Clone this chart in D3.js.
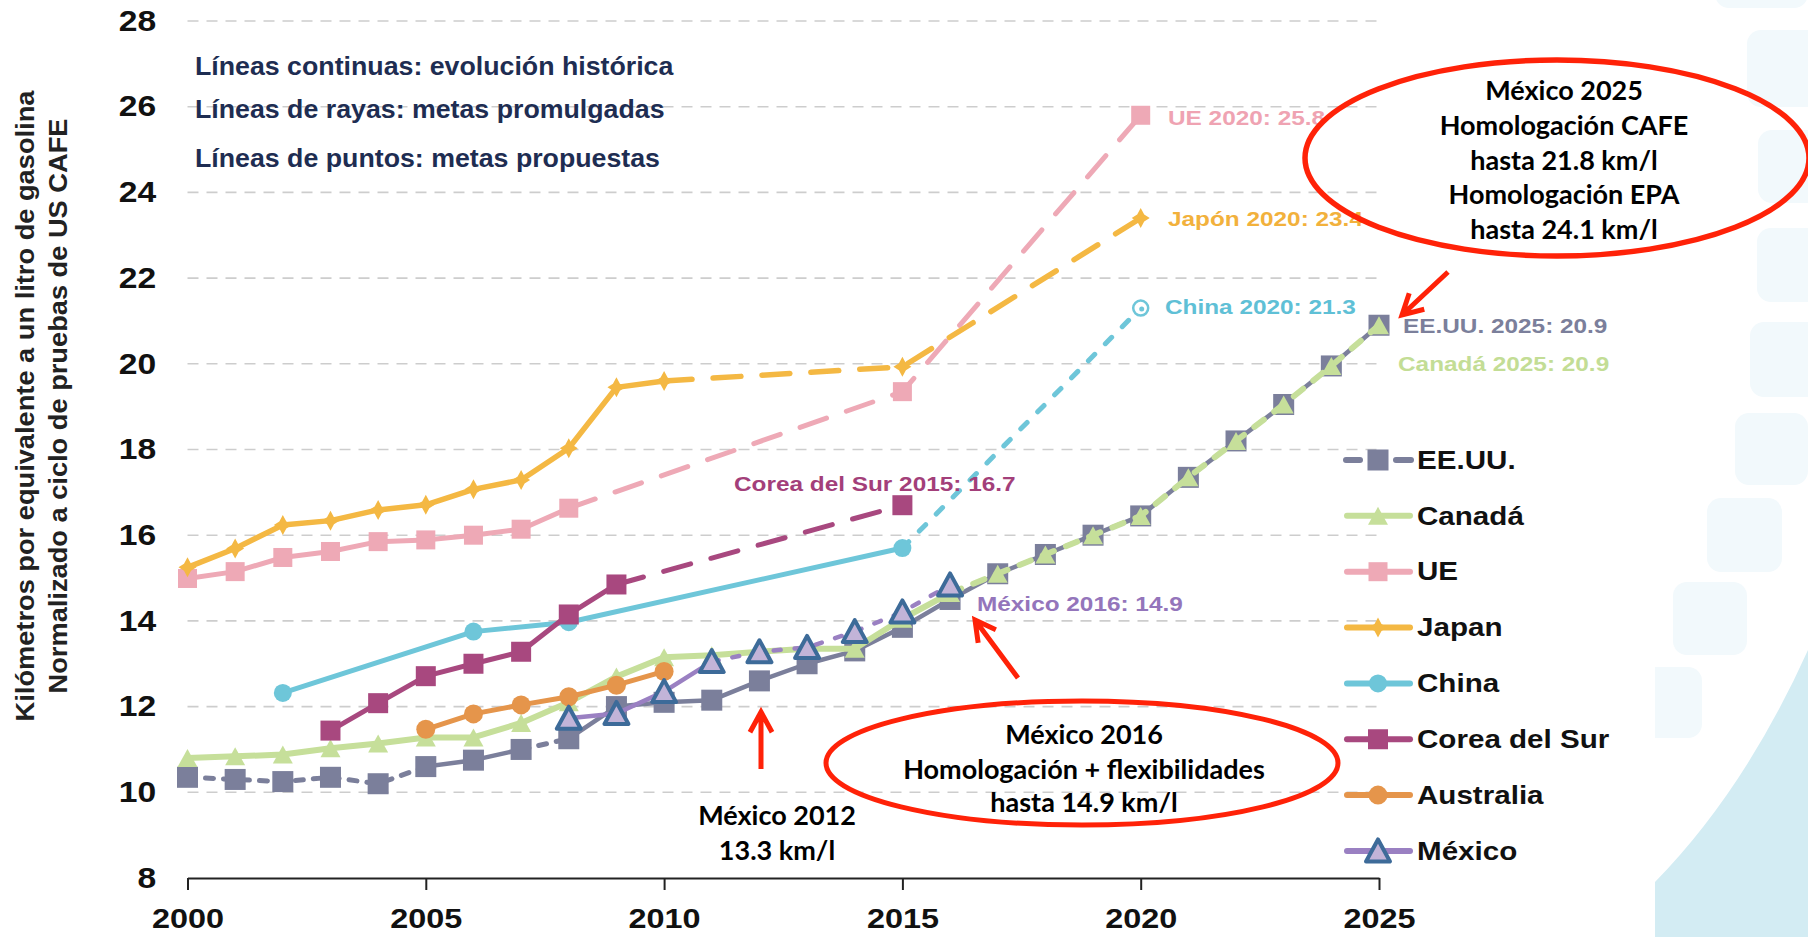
<!DOCTYPE html>
<html>
<head>
<meta charset="utf-8">
<script src="https://cdn.jsdelivr.net/npm/d3@7"></script>
<style>
  html, body { margin: 0; padding: 0; background: #fff; }
  svg { display: block; }
</style>
</head>
<body>
<div id="chart"></div>
<script>
////////////////////////////////////
//////////////data//////////////////
////////////////////////////////////
const xTicks = [2000, 2005, 2010, 2015, 2020, 2025]
const yTicks = [8, 10, 12, 14, 16, 18, 20, 22, 24, 26, 28]

const usYears = [2000, 2001, 2002, 2003, 2004, 2005, 2006, 2007, 2008, 2009, 2010, 2011, 2012,
  2013, 2014, 2015, 2016, 2017, 2018, 2019, 2020, 2021, 2022, 2023, 2024, 2025]
const usValues = [10.35, 10.3, 10.25, 10.35, 10.2, 10.6, 10.75, 11.0, 11.25, 12.0, 12.1, 12.15, 12.6,
  13.0, 13.3, 13.85, 14.5, 15.1, 15.55, 16.0, 16.45, 17.35, 18.2, 19.05, 19.95, 20.9]

const caYears = [2000, 2001, 2002, 2003, 2004, 2005, 2006, 2007, 2008, 2009, 2010, 2011, 2012,
  2013, 2014, 2015, 2016, 2017, 2018, 2019, 2020, 2021, 2022, 2023, 2024, 2025]
const caValues = [10.8, 10.84, 10.88, 11.03, 11.14, 11.28, 11.28, 11.62, 12.1, 12.7, 13.15, 13.2, 13.28,
  13.35, 13.35, 14.05, 14.65, 15.1, 15.55, 16.0, 16.45, 17.35, 18.2, 19.05, 19.95, 20.9]

const ueYears = [2000, 2001, 2002, 2003, 2004, 2005, 2006, 2007, 2008, 2015, 2020]
const ueValues = [14.99, 15.15, 15.48, 15.62, 15.85, 15.89, 16.0, 16.14, 16.63, 19.35, 25.8]

const jpYears = [2000, 2001, 2002, 2003, 2004, 2005, 2006, 2007, 2008, 2009, 2010, 2015, 2020]
const jpValues = [15.25, 15.69, 16.24, 16.34, 16.59, 16.71, 17.07, 17.29, 18.03, 19.45, 19.6, 19.93, 23.4]

const cnYears = [2002, 2006, 2008, 2015, 2020]
const cnValues = [12.32, 13.75, 13.97, 15.7, 21.3]

const krYears = [2003, 2004, 2005, 2006, 2007, 2008, 2009, 2015]
const krValues = [11.44, 12.08, 12.71, 13.0, 13.28, 14.15, 14.85, 16.7]

const auYears = [2005, 2006, 2007, 2008, 2009, 2010]
const auValues = [11.47, 11.83, 12.04, 12.23, 12.5, 12.82]

const mxYears = [2008, 2009, 2010, 2011, 2012, 2013, 2014, 2015, 2016]
const mxValues = [11.73, 11.84, 12.35, 13.05, 13.28, 13.38, 13.75, 14.21, 14.84]

// line style per stretch of years: [from, to, style]
const usSegs = [[2000, 2005, 'short'], [2005, 2007, 'solid'], [2007, 2008, 'short'], [2008, 2025, 'solid']]
const caSegs = [[2000, 2016, 'solid'], [2016, 2025, 'dotCa']]
const ueSegs = [[2000, 2008, 'solid'], [2008, 2020, 'long']]
const jpSegs = [[2000, 2010, 'solid'], [2010, 2020, 'long']]
const cnSegs = [[2002, 2015, 'solid'], [2015, 2020, 'dot']]
const krSegs = [[2003, 2009, 'solid'], [2009, 2015, 'long']]
const auSegs = [[2005, 2010, 'solid']]
const mxSegs = [[2008, 2011, 'solid'], [2011, 2016, 'dotMx']]

const seriesLabels = [
  { text: 'UE 2020: 25.8', x: 1168, y: 118, color: '#efa3b2' },
  { text: 'Japón 2020: 23.4', x: 1168, y: 219, color: '#f2b13c' },
  { text: 'China 2020: 21.3', x: 1165, y: 307, color: '#5fc0d6' },
  { text: 'EE.UU. 2025: 20.9', x: 1403, y: 326, color: '#7b7f9b' },
  { text: 'Canadá 2025: 20.9', x: 1398, y: 364, color: '#c3dd95' },
  { text: 'Corea del Sur 2015: 16.7', x: 734, y: 484, color: '#a33f7a' },
  { text: 'México 2016: 14.9', x: 977, y: 604, color: '#9475bb' }
]

const notes = [
  'Líneas continuas: evolución histórica',
  'Líneas de rayas: metas promulgadas',
  'Líneas de puntos: metas propuestas'
]

////////////////////////////////////
//////////////setup/////////////////
////////////////////////////////////
const W = 1808
const H = 937

const svg = d3.select('#chart')
  .append('svg')
  .attr('width', W)
  .attr('height', H)

const x = d3.scaleLinear().domain([2000, 2025]).range([187.5, 1379])
const y = d3.scaleLinear().domain([8, 28]).range([878, 21])

const dashes = {
  solid: null,
  short: '8,10',
  long: '28,21',
  dot: '9,15',
  dotCa: '12,13',
  dotMx: '7,14'
}

const boldFont = '"Liberation Sans", Arial, Helvetica, sans-serif'

// background decoration (slide template on the right)
const deco = svg.append('g')
svg.append('clipPath').attr('id', 'decoClip')
  .append('rect').attr('x', 1655).attr('y', 0).attr('width', 200).attr('height', H)
const tiles = [[1747, 30, 80, 77], [1758, 130, 80, 73], [1757, 228, 80, 74], [1750, 322, 80, 75],
  [1735, 413, 73, 72], [1707, 498, 75, 74], [1673, 582, 74, 73], [1628, 667, 74, 71], [1715, -20, 93, 28]]
deco.append('g').attr('clip-path', 'url(#decoClip)')
  .selectAll('rect')
  .data(tiles)
  .join('rect')
  .attr('x', d => d[0]).attr('y', d => d[1])
  .attr('width', d => d[2]).attr('height', d => d[3])
  .attr('rx', 14)
  .attr('fill', '#f2f9fc')
deco.append('path')
  .attr('d', 'M1655,937 L1655,882 Q1745,790 1808,650 L1808,937 Z')
  .attr('fill', '#d3ecf3')

////////////////////////////////////
//////////////axes//////////////////
////////////////////////////////////
svg.append('g')
  .selectAll('line')
  .data(yTicks.filter(d => d > 8))
  .join('line')
  .attr('x1', x(2000)).attr('x2', x(2025))
  .attr('y1', d => y(d)).attr('y2', d => y(d))
  .attr('stroke', '#cdcdcd')
  .attr('stroke-width', 1.6)
  .attr('stroke-dasharray', '11,8')

const yAxis = svg.append('g')
  .attr('transform', `translate(${x(2000)},0)`)
  .call(d3.axisLeft(y).tickValues(yTicks).tickSize(0).tickPadding(27))
yAxis.select('.domain').remove()
yAxis.selectAll('text')
  .attr('transform', 'scale(1.16,1)')
  .attr('fill', '#111')
  .style('font-family', boldFont)
  .style('font-weight', 'bold')
  .style('font-size', '29px')

const xAxis = svg.append('g')
  .attr('transform', `translate(0,${y(8)})`)
  .call(d3.axisBottom(x).tickValues(xTicks).tickFormat(d3.format('d')).tickSize(12).tickSizeOuter(0))
xAxis.select('.domain').attr('stroke', '#222').attr('stroke-width', 2)
xAxis.selectAll('.tick line').attr('stroke', '#222').attr('stroke-width', 2)
xAxis.selectAll('text')
  .attr('y', 41)
  .attr('dy', '0.35em')
  .attr('transform', 'scale(1.2,1)')
  .attr('fill', '#111')
  .style('font-family', boldFont)
  .style('font-weight', 'bold')
  .style('font-size', '27px')

// y axis title, two lines
const yTitle = ['Kilómetros por equivalente a un litro de gasolina', 'Normalizado a ciclo de pruebas de US CAFE']
yTitle.forEach((t, i) => {
  svg.append('text')
    .attr('transform', `translate(${25 + i * 33},406) rotate(-90) scale(1.09,1)`)
    .attr('text-anchor', 'middle')
    .attr('dominant-baseline', 'central')
    .attr('fill', '#222')
    .style('font-family', boldFont)
    .style('font-weight', 'bold')
    .style('font-size', '25px')
    .text(t)
})

// notes top left
notes.forEach((t, i) => {
  svg.append('text')
    .attr('transform', `translate(195,${[66, 109, 158][i]}) scale(1.07,1)`)
    .attr('dominant-baseline', 'central')
    .attr('fill', '#1e2d52')
    .style('font-family', boldFont)
    .style('font-weight', 'bold')
    .style('font-size', '25px')
    .text(t)
})

////////////////////////////////////
//////////////markers///////////////
////////////////////////////////////
function markerPath(type) {
  if (type === 'ctri') return 'M0,-9L10,9L-10,9Z'
  if (type === 'mtri') return 'M0,-11.5L12,10.5L-12,10.5Z'
  if (type === 'star') return 'M0,-10L3.5,-3.5L9,0L3.5,3.5L0,10L-3.5,3.5L-9,0L-3.5,-3.5Z'
  return null
}

function drawMarker(g, s, cx, cy, ring) {
  if (ring) {
    g.append('circle').attr('cx', cx).attr('cy', cy).attr('r', 7.5)
      .attr('fill', '#fff').attr('stroke', s.color).attr('stroke-width', 2.5)
    g.append('circle').attr('cx', cx + 1).attr('cy', cy + 1).attr('r', 2.5).attr('fill', s.color)
    return
  }
  if (s.marker === 'square') {
    g.append('rect')
      .attr('x', cx - s.size / 2).attr('y', cy - s.size / 2)
      .attr('width', s.size).attr('height', s.size)
      .attr('fill', s.color)
  } else if (s.marker === 'circle') {
    g.append('circle').attr('cx', cx).attr('cy', cy).attr('r', s.size).attr('fill', s.color)
  } else if (s.marker === 'mtri') {
    g.append('path').attr('d', markerPath('mtri'))
      .attr('transform', `translate(${cx},${cy})`)
      .attr('fill', '#c2b4d8')
      .attr('stroke', '#3d6b99')
      .attr('stroke-width', 4)
      .attr('stroke-linejoin', 'round')
  } else {
    g.append('path').attr('d', markerPath(s.marker))
      .attr('transform', `translate(${cx},${cy})`)
      .attr('fill', s.color)
  }
}

////////////////////////////////////
//////////////series////////////////
////////////////////////////////////
const series = [
  { name: 'EE.UU.', years: usYears, values: usValues, segs: usSegs, color: '#7b7f9b', width: 5, marker: 'square', size: 21 },
  { name: 'Canadá', years: caYears, values: caValues, segs: caSegs, color: '#c6df9a', width: 6, marker: 'ctri' },
  { name: 'UE', years: ueYears, values: ueValues, segs: ueSegs, color: '#eea9b6', width: 5, marker: 'square', size: 19 },
  { name: 'Japan', years: jpYears, values: jpValues, segs: jpSegs, color: '#f4b843', width: 5.5, marker: 'star' },
  { name: 'China', years: cnYears, values: cnValues, segs: cnSegs, color: '#6ec6d9', width: 5, marker: 'circle', size: 9, ringYear: 2020 },
  { name: 'Corea del Sur', years: krYears, values: krValues, segs: krSegs, color: '#a8487f', width: 5, marker: 'square', size: 20 },
  { name: 'Australia', years: auYears, values: auValues, segs: auSegs, color: '#e5954b', width: 5, marker: 'circle', size: 9.5 },
  { name: 'México', years: mxYears, values: mxValues, segs: mxSegs, color: '#9a80c2', width: 4.5, marker: 'mtri' }
]

const line = d3.line().x(d => x(d.year)).y(d => y(d.value))

const plot = svg.append('g')
series.forEach(s => {
  const pts = s.years.map((yr, i) => ({ year: yr, value: s.values[i] }))
  const g = plot.append('g')
  s.segs.forEach(([a, b, style]) => {
    g.append('path')
      .datum(pts.filter(p => p.year >= a && p.year <= b))
      .attr('d', line)
      .attr('fill', 'none')
      .attr('stroke', s.color)
      .attr('stroke-width', style === 'solid' && s.name === 'EE.UU.' ? 4.5 : s.width)
      .attr('stroke-linecap', 'round')
      .attr('stroke-linejoin', 'round')
      .attr('stroke-dasharray', dashes[style])
  })
  pts.forEach(p => drawMarker(g, s, x(p.year), y(p.value), p.year === s.ringYear))
})

seriesLabels.forEach(l => {
  svg.append('text')
    .attr('transform', `translate(${l.x},${l.y}) scale(1.16,1)`)
    .attr('dominant-baseline', 'central')
    .attr('fill', l.color)
    .style('font-family', boldFont)
    .style('font-weight', 'bold')
    .style('font-size', '21px')
    .text(l.text)
})

////////////////////////////////////
//////////////legend////////////////
////////////////////////////////////
const legend = svg.append('g')
series.forEach((s, i) => {
  const ly = 460 + i * 55.85
  const g = legend.append('g')
  if (s.name === 'EE.UU.') {
    [[1346, 1360], [1396, 1411]].forEach(([a, b]) => {
      g.append('line').attr('x1', a).attr('x2', b).attr('y1', ly).attr('y2', ly)
        .attr('stroke', s.color).attr('stroke-width', 6).attr('stroke-linecap', 'round')
    })
  } else {
    g.append('line').attr('x1', 1347).attr('x2', 1410).attr('y1', ly).attr('y2', ly)
      .attr('stroke', s.color).attr('stroke-width', 6).attr('stroke-linecap', 'round')
  }
  drawMarker(g, s, 1378, ly, false)
  g.append('text')
    .attr('transform', `translate(1417,${ly}) scale(1.16,1)`)
    .attr('dominant-baseline', 'central')
    .attr('fill', '#111')
    .style('font-family', boldFont)
    .style('font-weight', 'bold')
    .style('font-size', '25.5px')
    .text(s.name)
})

////////////////////////////////////
//////////////annotations///////////
////////////////////////////////////
const red = '#ff2208'
const ann = svg.append('g')

function arrow(x1, y1, x2, y2) {
  const ang = Math.atan2(y2 - y1, x2 - x1)
  const len = 23
  const wing = a => [x2 - len * Math.cos(ang + a), y2 - len * Math.sin(ang + a)]
  const w1 = wing(0.5)
  const w2 = wing(-0.5)
  ann.append('path')
    .attr('d', `M${x1},${y1}L${x2},${y2}M${w1[0]},${w1[1]}L${x2},${y2}L${w2[0]},${w2[1]}`)
    .attr('fill', 'none')
    .attr('stroke', red)
    .attr('stroke-width', 5)
    .attr('stroke-linejoin', 'miter')
}

ann.append('ellipse')
  .attr('cx', 1557).attr('cy', 158).attr('rx', 252).attr('ry', 98)
  .attr('fill', 'none').attr('stroke', red).attr('stroke-width', 5.5)

ann.append('ellipse')
  .attr('cx', 1082).attr('cy', 763).attr('rx', 256).attr('ry', 62)
  .attr('fill', 'none').attr('stroke', red).attr('stroke-width', 5)

arrow(761, 769, 761, 712)
arrow(1018, 678, 975, 620)
arrow(1448, 272, 1402, 315)

function noteLines(lines, cx, ys) {
  lines.forEach((t, i) => {
    ann.append('text')
      .attr('x', cx).attr('y', ys[i])
      .attr('text-anchor', 'middle')
      .attr('dominant-baseline', 'central')
      .attr('fill', '#000')
      .style('font-family', 'Lato, "Open Sans", sans-serif')
      .style('font-weight', 'bold')
      .style('font-size', '27px')
      .text(t)
  })
}

noteLines(['México 2025', 'Homologación CAFE', 'hasta 21.8 km/l', 'Homologación EPA', 'hasta 24.1 km/l'],
  1564, [89, 124, 159, 193.5, 228.5])
noteLines(['México 2016', 'Homologación + flexibilidades', 'hasta 14.9 km/l'], 1084, [733, 768, 801])
noteLines(['México 2012', '13.3 km/l'], 777, [814, 849])
</script>
</body>
</html>
